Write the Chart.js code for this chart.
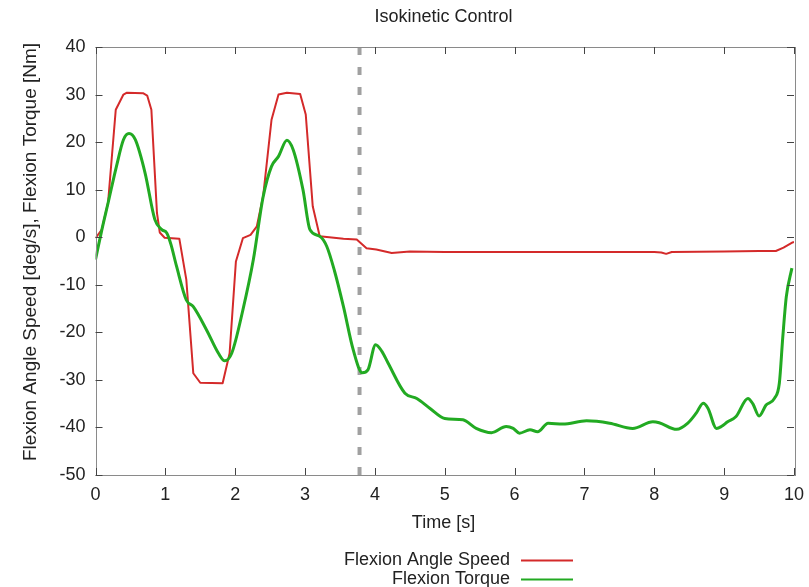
<!DOCTYPE html>
<html>
<head>
<meta charset="utf-8">
<script src="https://cdn.jsdelivr.net/npm/chart.js@4/dist/chart.umd.min.js"></script>
<style>
  html, body { margin: 0; padding: 0; background: #fff; }
  #wrap { width: 809px; height: 587px; }
</style>
</head>
<body>
<div id="wrap"><canvas id="c" width="809" height="587"></canvas></div>
<script>
// Flexion angle speed [deg/s] over time [s]
const speedTime = [0, 0.09, 0.18, 0.29, 0.40, 0.45, 0.68, 0.74, 0.80, 0.88, 0.92, 0.99, 1.20, 1.30, 1.40, 1.50, 1.82, 1.92, 2.01, 2.11, 2.22, 2.31, 2.40, 2.52, 2.62, 2.74, 2.93, 3.01, 3.11, 3.21, 3.55, 3.74, 3.88, 4.02, 4.21, 4.24, 4.5, 5.0, 6.0, 7.0, 8.0, 8.10, 8.17, 8.25, 9.0, 9.5, 9.74, 9.85, 9.98, 10.0];
const speedValues = [-0.2, 1.6, 7.3, 26.8, 30.0, 30.4, 30.3, 29.8, 26.8, 5.1, 1.0, -0.1, -0.3, -8.9, -28.6, -30.6, -30.7, -24.4, -5.1, -0.2, 0.5, 2.3, 8.6, 24.7, 30.0, 30.4, 30.1, 25.8, 6.5, 0.2, -0.3, -0.5, -2.3, -2.6, -3.2, -3.3, -3.0, -3.1, -3.1, -3.1, -3.1, -3.2, -3.5, -3.1, -3.0, -2.9, -2.9, -2.2, -1.1, -1.0];

// Flexion torque [Nm] over time [s]
const torqueTime = [0, 0.09, 0.18, 0.30, 0.40, 0.48, 0.57, 0.71, 0.85, 0.95, 1.02, 1.08, 1.16, 1.30, 1.40, 1.59, 1.76, 1.85, 1.95, 2.11, 2.26, 2.40, 2.52, 2.62, 2.74, 2.83, 2.97, 3.07, 3.21, 3.31, 3.42, 3.55, 3.69, 3.82, 3.90, 4.01, 4.10, 4.19, 4.43, 4.60, 4.79, 5.00, 5.26, 5.45, 5.67, 5.88, 5.98, 6.07, 6.22, 6.33, 6.48, 6.69, 7.03, 7.36, 7.69, 7.98, 8.07, 8.32, 8.48, 8.60, 8.70, 8.77, 8.89, 8.96, 9.05, 9.17, 9.34, 9.41, 9.50, 9.60, 9.72, 9.79, 9.84, 9.89, 9.97];
const torqueValues = [-4.7, 1.5, 7.2, 14.9, 20.5, 21.8, 20.5, 13.5, 3.7, 1.6, 0.9, -1.5, -6.1, -13.2, -14.6, -19.5, -24.4, -26.0, -24.4, -15.3, -4.7, 8.5, 14.9, 17.0, 20.4, 18.4, 10.0, 1.6, 0.2, -1.9, -7.0, -14.6, -23.7, -28.5, -27.9, -22.6, -24.0, -26.5, -32.8, -33.9, -36.0, -38.1, -38.4, -40.2, -41.1, -39.8, -40.2, -41.2, -40.5, -40.9, -39.1, -39.3, -38.6, -39.1, -40.2, -38.8, -39.0, -40.4, -39.1, -37.0, -34.9, -36.0, -40.2, -39.8, -38.8, -37.7, -33.9, -35.0, -37.6, -35.3, -33.9, -30.7, -20.9, -12.5, -6.5];

// Control switch-over instant [s]
const switchTime = 3.78;

// Axis ticks
const xTicks = [0, 1, 2, 3, 4, 5, 6, 7, 8, 9, 10];
const yTicks = [-50, -40, -30, -20, -10, 0, 10, 20, 30, 40];

const titleText = 'Isokinetic Control';
const xTitle = 'Time [s]';
const yTitle = 'Flexion Angle Speed [deg/s], Flexion Torque [Nm]';
const seriesNames = ['Flexion Angle Speed', 'Flexion Torque'];

const FONT = '"Liberation Sans", Arial, sans-serif';
const RED = '#d42a2a';
const GREEN = '#22aa22';

const toPoints = (xs, ys) => xs.map((x, i) => ({ x: x, y: ys[i] }));

// Frame, inward ticks, titles and legend in the gnuplot manner
const framePlugin = {
  id: 'frame',
  afterDraw(chart) {
    const ctx = chart.ctx;
    const a = chart.chartArea;
    const xs = chart.scales.x, ys = chart.scales.y;
    ctx.save();
    ctx.strokeStyle = '#8a8a8a';
    ctx.lineWidth = 1;
    ctx.strokeRect(Math.round(a.left) + 0.5, Math.round(a.top) + 0.5,
                   Math.round(a.right - a.left), Math.round(a.bottom - a.top));
    ctx.strokeStyle = '#444';
    const tl = 7;
    ctx.beginPath();
    xTicks.forEach(v => {
      const px = Math.round(xs.getPixelForValue(v)) + 0.5;
      ctx.moveTo(px, a.bottom); ctx.lineTo(px, a.bottom - tl);
      ctx.moveTo(px, a.top); ctx.lineTo(px, a.top + tl);
    });
    yTicks.forEach(v => {
      const py = Math.round(ys.getPixelForValue(v)) + 0.5;
      ctx.moveTo(a.left, py); ctx.lineTo(a.left + tl, py);
      ctx.moveTo(a.right, py); ctx.lineTo(a.right - tl, py);
    });
    ctx.stroke();

    ctx.fillStyle = '#222';
    ctx.textBaseline = 'middle';
    // chart title
    ctx.font = '18px ' + FONT;
    ctx.textAlign = 'center';
    ctx.fillText(titleText, 443.5, 17);
    // axis titles
    ctx.fillText(xTitle, 443.5, 523);
    ctx.save();
    ctx.translate(31, 252);
    ctx.rotate(-Math.PI / 2);
    ctx.font = '19px ' + FONT;
    ctx.fillText(yTitle, 0, 0);
    ctx.restore();

    // legend: label text on the left, line sample on the right
    ctx.textAlign = 'right';
    const rows = [560, 579];
    chart.data.datasets.slice(0, 2).forEach((ds, i) => {
      ctx.fillStyle = '#222';
      ctx.fillText(ds.label, 510, rows[i]);
      ctx.strokeStyle = ds.borderColor;
      ctx.lineWidth = 2;
      ctx.beginPath();
      ctx.moveTo(521, rows[i] + 0.5);
      ctx.lineTo(573, rows[i] + 0.5);
      ctx.stroke();
    });
    ctx.restore();
  }
};

new Chart(document.getElementById('c'), {
  type: 'line',
  data: {
    datasets: [
      {
        label: seriesNames[0],
        data: toPoints(speedTime, speedValues),
        borderColor: RED,
        borderWidth: 2,
        pointRadius: 0,
        tension: 0,
        borderJoinStyle: 'round',
        order: 1
      },
      {
        label: seriesNames[1],
        data: toPoints(torqueTime, torqueValues),
        borderColor: GREEN,
        borderWidth: 3,
        pointRadius: 0,
        cubicInterpolationMode: 'monotone',
        borderJoinStyle: 'round',
        order: 0
      },
      {
        label: 'switch',
        data: [{ x: switchTime, y: yTicks[0] }, { x: switchTime, y: yTicks[yTicks.length - 1] }],
        borderColor: '#a0a0a0',
        borderWidth: 4,
        borderDash: [8, 12],
        pointRadius: 0,
        order: 2
      }
    ]
  },
  options: {
    responsive: false,
    animation: false,
    events: [],
    layout: { padding: { top: 47, right: 15, left: 0, bottom: 0 } },
    plugins: { legend: { display: false }, tooltip: { enabled: false }, title: { display: false } },
    scales: {
      x: {
        type: 'linear',
        min: 0, max: 10,
        grid: { display: false },
        border: { display: false },
        afterFit(s) { s.height = 112; },
        afterBuildTicks(s) { s.ticks = xTicks.map(v => ({ value: v })); },
        ticks: { padding: 1, color: '#222', font: { family: FONT, size: 18 }, maxRotation: 0 }
      },
      y: {
        type: 'linear',
        min: -50, max: 40,
        grid: { display: false },
        border: { display: false },
        afterFit(s) { s.width = 95.5; },
        afterBuildTicks(s) { s.ticks = yTicks.map(v => ({ value: v })); },
        ticks: { padding: 2, color: '#222', font: { family: FONT, size: 18 } }
      }
    }
  },
  plugins: [framePlugin]
});
</script>
</body>
</html>
